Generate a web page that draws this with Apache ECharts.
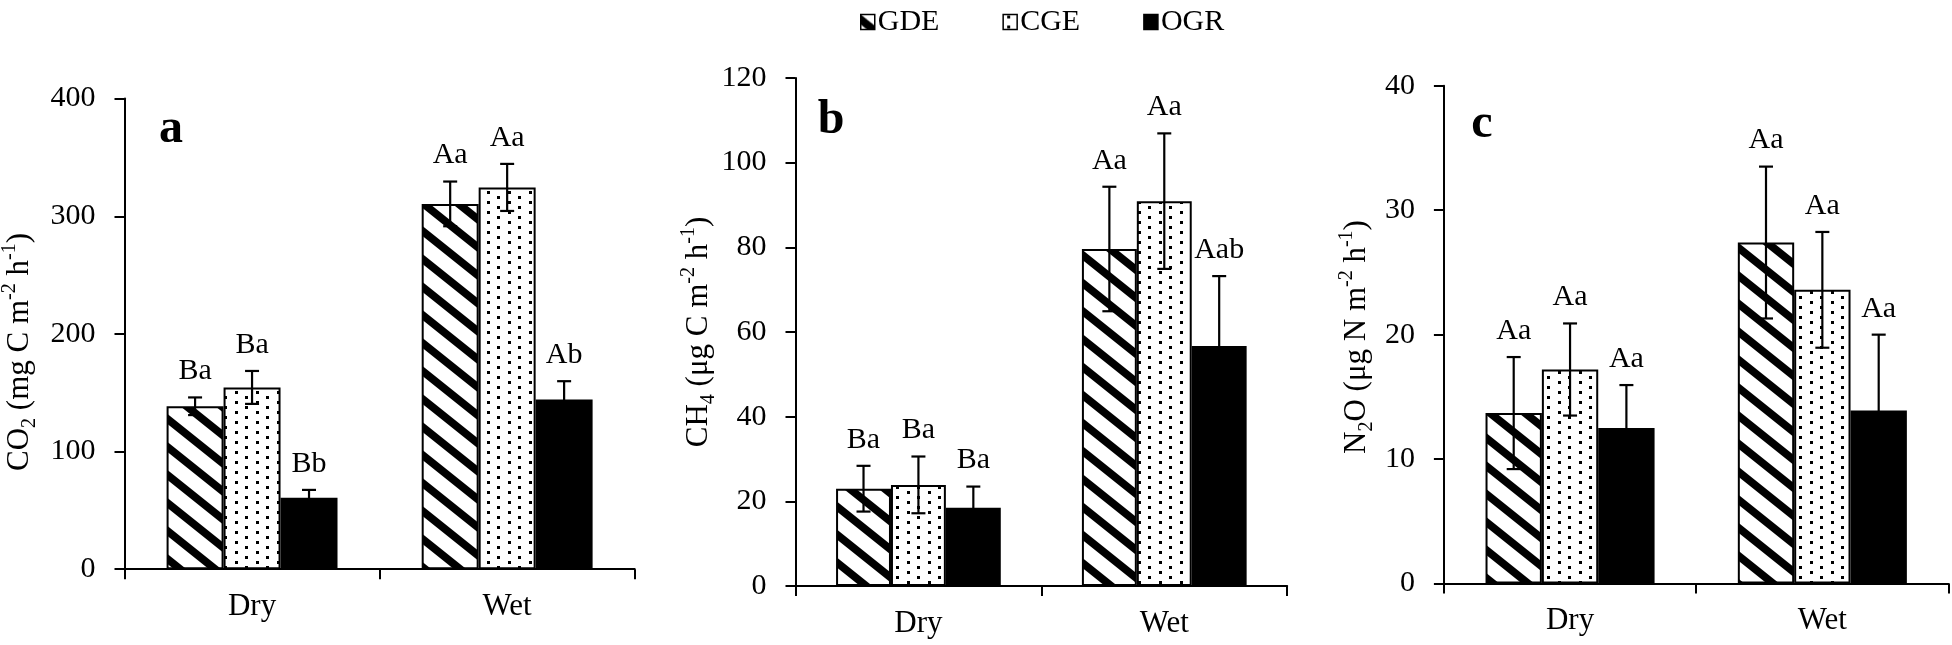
<!DOCTYPE html>
<html>
<head>
<meta charset="utf-8">
<script src="https://cdn.jsdelivr.net/npm/echarts@6/dist/echarts.min.js"></script>
<style>html,body{margin:0;padding:0;background:#fff;}#c{width:1952px;height:645px;}</style>
</head>
<body>
<div id="c"></div>
<script>
// ---------- DATA ----------
const categories = ['Dry', 'Wet'];
const seriesNames = ['GDE', 'CGE', 'OGR'];

// Panel a: CO2
const co2GDE = [138.5, 310.5];
const co2GDEErr = [7.5, 19];
const co2CGE = [154.5, 324.5];
const co2CGEErr = [14, 20];
const co2OGR = [60.8, 144.3];
const co2OGRErr = [6.6, 15.5];
const co2GDELabels = ['Ba', 'Aa'];
const co2CGELabels = ['Ba', 'Aa'];
const co2OGRLabels = ['Bb', 'Ab'];

// Panel b: CH4
const ch4GDE = [23.0, 79.6];
const ch4GDEErr = [5.4, 14.7];
const ch4CGE = [23.9, 90.9];
const ch4CGEErr = [6.7, 16.0];
const ch4OGR = [18.5, 56.7];
const ch4OGRErr = [5.0, 16.5];
const ch4GDELabels = ['Ba', 'Aa'];
const ch4CGELabels = ['Ba', 'Aa'];
const ch4OGRLabels = ['Ba', 'Aab'];

// Panel c: N2O
const n2oGDE = [13.7, 27.4];
const n2oGDEErr = [4.5, 6.1];
const n2oCGE = [17.2, 23.6];
const n2oCGEErr = [3.7, 4.65];
const n2oOGR = [12.5, 13.9];
const n2oOGRErr = [3.45, 6.1];
const n2oGDELabels = ['Aa', 'Aa'];
const n2oCGELabels = ['Aa', 'Aa'];
const n2oOGRLabels = ['Aa', 'Aa'];

// Axis ticks
const yMaxes = [400, 120, 40];
const yIntervals = [100, 20, 10];
const panelLetters = ['a', 'b', 'c'];

// ---------- PATTERNS ----------
function stripePattern() {
  const W = 35, H = 28, T = 10;
  const c = document.createElement('canvas');
  c.width = W; c.height = H;
  const ctx = c.getContext('2d');
  ctx.fillStyle = '#fff'; ctx.fillRect(0, 0, W, H);
  ctx.fillStyle = '#000';
  for (let k = -2; k <= 2; k++) {
    ctx.beginPath();
    ctx.moveTo(0, k * H);
    ctx.lineTo(W, k * H + H);
    ctx.lineTo(W, k * H + H + T);
    ctx.lineTo(0, k * H + T);
    ctx.closePath();
    ctx.fill();
  }
  return c;
}
function dotPattern() {
  const W = 21, H = 10;
  const c = document.createElement('canvas');
  c.width = W; c.height = H;
  const ctx = c.getContext('2d');
  ctx.fillStyle = '#fff'; ctx.fillRect(0, 0, W, H);
  ctx.fillStyle = '#000';
  ctx.fillRect(4, 1, 3, 3);
  ctx.fillRect(14, 6, 3, 3);
  return c;
}
const fills = [
  { image: stripePattern(), repeat: 'repeat' },
  { image: dotPattern(), repeat: 'repeat' },
  '#000'
];

// ---------- LAYOUT ----------
const grids = [
  { left: 124.5, right: 1317.3, top: 98.6, bottom: 75.8 },
  { left: 795.5, right: 664.8, top: 77.9, bottom: 58.9 },
  { left: 1443.9, right: 3.5, top: 85.7, bottom: 61.4 }
];
const FONT = 'Liberation Serif';

const panels = [
  { vals: [co2GDE, co2CGE, co2OGR], errs: [co2GDEErr, co2CGEErr, co2OGRErr], labels: [co2GDELabels, co2CGELabels, co2OGRLabels] },
  { vals: [ch4GDE, ch4CGE, ch4OGR], errs: [ch4GDEErr, ch4CGEErr, ch4OGRErr], labels: [ch4GDELabels, ch4CGELabels, ch4OGRLabels] },
  { vals: [n2oGDE, n2oCGE, n2oOGR], errs: [n2oGDEErr, n2oCGEErr, n2oOGRErr], labels: [n2oGDELabels, n2oCGELabels, n2oOGRLabels] }
];

const xAxes = [], yAxes = [], series = [];
panels.forEach((p, pi) => {
  xAxes.push({
    type: 'category', gridIndex: pi, data: categories,
    axisLine: { show: true, lineStyle: { color: '#000', width: 2 } },
    axisTick: { show: true, length: 10, lineStyle: { color: '#000', width: 2 } },
    axisLabel: { color: '#000', fontFamily: FONT, fontSize: 31, margin: 22 },
    splitLine: { show: false }
  });
  yAxes.push({
    type: 'value', gridIndex: pi, min: 0, max: yMaxes[pi], interval: yIntervals[pi],
    axisLine: { show: true, lineStyle: { color: '#000', width: 2 } },
    axisTick: { show: true, length: 10, lineStyle: { color: '#000', width: 2 } },
    axisLabel: { color: '#000', fontFamily: FONT, fontSize: 30, margin: 29 },
    splitLine: { show: false }
  });
  p.vals.forEach((v, si) => {
    series.push({
      type: 'bar', name: seriesNames[si], xAxisIndex: pi, yAxisIndex: pi,
      data: v, barGap: '0%', barCategoryGap: '33%',
      itemStyle: { color: fills[si], borderColor: '#000', borderWidth: 2 },
      emphasis: { disabled: true }
    });
  });
  p.vals.forEach((v, si) => {
    const labs = p.labels[si];
    series.push({
      type: 'custom', name: 'err' + pi + si, xAxisIndex: pi, yAxisIndex: pi,
      z: 10, clip: false, silent: true,
      data: v.map((val, ci) => [ci, val, p.errs[si][ci]]),
      encode: { x: 0, y: 1 },
      renderItem: function (params, api) {
        const cat = api.value(0), val = api.value(1), e = api.value(2);
        const band = api.size([1, 0])[0];
        const bw = band * 0.67 / 3;
        const cx = api.coord([cat, val])[0] + (si - 1) * bw;
        const yTop = api.coord([cat, val + e])[1];
        const yBot = api.coord([cat, val - e])[1];
        const half = 7;
        const ls = { stroke: '#000', lineWidth: 2.2 };
        return {
          type: 'group',
          children: [
            { type: 'line', shape: { x1: cx, y1: yTop, x2: cx, y2: yBot }, style: ls },
            { type: 'line', shape: { x1: cx - half, y1: yTop, x2: cx + half, y2: yTop }, style: ls },
            { type: 'line', shape: { x1: cx - half, y1: yBot, x2: cx + half, y2: yBot }, style: ls },
            { type: 'text', x: cx, y: yTop - 26,
              style: { text: labs[params.dataIndex], fill: '#000', font: '30px "Liberation Serif"', align: 'center', verticalAlign: 'middle' } }
          ]
        };
      }
    });
  });
});

// Axis titles and panel letters
const titleRich = {
  n: { fontSize: 31, fontFamily: FONT, lineHeight: 40, fill: '#000' },
  sub: { fontSize: 20, fontFamily: FONT, lineHeight: 20, verticalAlign: 'bottom', fill: '#000' },
  sup: { fontSize: 20, fontFamily: FONT, lineHeight: 20, verticalAlign: 'top', fill: '#000' }
};
const titles = [
  { text: '{n|CO}{sub|2}{n| (mg C m}{sup|-2}{n| h}{sup|-1}{n|)}', x: 20, y: 352 },
  { text: '{n|CH}{sub|4}{n| (μg C m}{sup|-2}{n| h}{sup|-1}{n|)}', x: 699, y: 332 },
  { text: '{n|N}{sub|2}{n|O (μg N m}{sup|-2}{n| h}{sup|-1}{n|)}', x: 1357, y: 337 }
];
const letterPos = [[171, 130], [831, 121], [1482, 125]];
const graphics = [];
titles.forEach(t => {
  graphics.push({
    type: 'text', x: t.x, y: t.y, rotation: Math.PI / 2,
    style: { text: t.text, rich: titleRich, align: 'center', verticalAlign: 'middle', fill: '#000' }
  });
});
panelLetters.forEach((l, i) => {
  graphics.push({
    type: 'text', x: letterPos[i][0], y: letterPos[i][1],
    style: { text: l, font: 'bold 48px "Liberation Serif"', fill: '#000', align: 'center', verticalAlign: 'middle' }
  });
});

const chart = echarts.init(document.getElementById('c'), null, { renderer: 'canvas' });
chart.setOption({
  animation: false,
  backgroundColor: '#fff',
  grid: grids,
  xAxis: xAxes,
  yAxis: yAxes,
  legend: {
    data: seriesNames, left: 855, top: 2, itemGap: 63, itemWidth: 14, itemHeight: 15,
    icon: 'rect',
    itemStyle: { borderColor: '#000', borderWidth: 1.5 },
    textStyle: { fontFamily: FONT, fontSize: 30, color: '#000', padding: [0, 0, 0, -2] },
    selectedMode: false
  },
  graphic: graphics,
  series: series
});
</script>
</body>
</html>
